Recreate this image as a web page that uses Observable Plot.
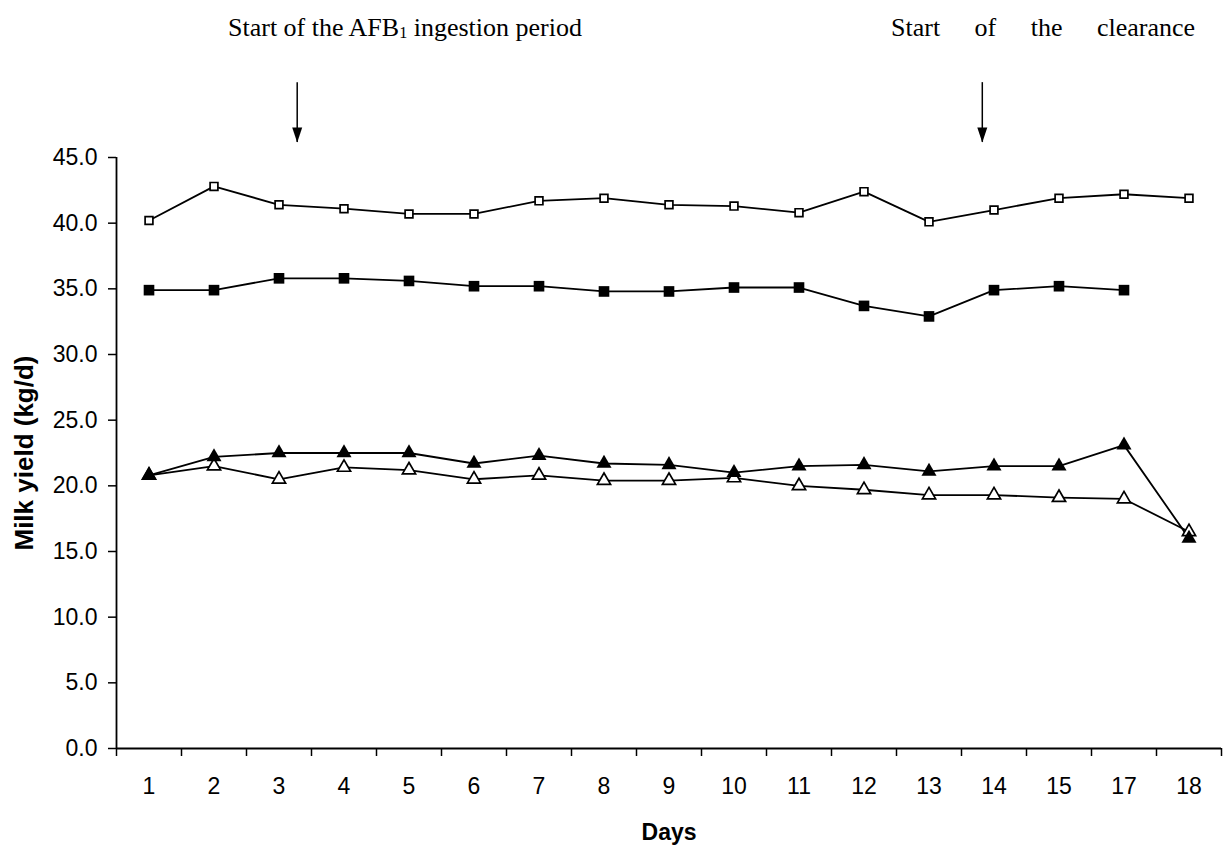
<!DOCTYPE html>
<html>
<head>
<meta charset="utf-8">
<script src="https://cdn.jsdelivr.net/npm/d3@7"></script>
<script src="https://cdn.jsdelivr.net/npm/@observablehq/plot@0.6"></script>
<style>
  body { margin: 0; background: #fff; }
  #wrap { position: relative; width: 1226px; height: 853px; background: #fff; }
  #head { position: relative; height: 60px; font-family: "Liberation Serif", "Times New Roman", serif; font-size: 26px; color: #000; }
  #head .t { position: absolute; white-space: nowrap; top: 13px; line-height: 30px; }
  #head sub { font-size: 0.62em; vertical-align: -0.15em; line-height: 0; }
</style>
</head>
<body>
<div id="wrap">
  <div id="head">
    <span class="t" id="ann1"></span>
    <span class="t" id="ann2"></span>
  </div>
  <div id="chart"></div>
</div>
<script>
// ---- data ----
const days = ["1","2","3","4","5","6","7","8","9","10","11","12","13","14","15","17","18"];
const openSquares     = [40.2, 42.8, 41.4, 41.1, 40.7, 40.7, 41.7, 41.9, 41.4, 41.3, 40.8, 42.4, 40.1, 41.0, 41.9, 42.2, 41.9];
const filledSquares   = [34.9, 34.9, 35.8, 35.8, 35.6, 35.2, 35.2, 34.8, 34.8, 35.1, 35.1, 33.7, 32.9, 34.9, 35.2, 34.9, null];
const openTriangles   = [20.8, 21.5, 20.5, 21.4, 21.2, 20.5, 20.8, 20.4, 20.4, 20.6, 20.0, 19.7, 19.3, 19.3, 19.1, 19.0, 16.5];
const filledTriangles = [20.8, 22.2, 22.5, 22.5, 22.5, 21.7, 22.3, 21.7, 21.6, 21.0, 21.5, 21.6, 21.1, 21.5, 21.5, 23.1, 16.0];
const yTicks = [0, 5, 10, 15, 20, 25, 30, 35, 40, 45];
const yLabel = "Milk yield (kg/d)";
const xLabel = "Days";
// annotations: arrow positions (in day-slot units) and texts
const arrowSlots = [3.28, 13.82];
const arrowTopValue = 50.7;
const arrowTipValue = 46.15;
const annText1 = 'Start of the AFB<sub>1</sub> ingestion period';
const annText2 = 'Start of the clearance';

// ---- build ----
const seriesDefs = [
  {name: "openSquares", values: openSquares},
  {name: "filledSquares", values: filledSquares},
  {name: "openTriangles", values: openTriangles},
  {name: "filledTriangles", values: filledTriangles}
];
const rows = [];
for (const s of seriesDefs) {
  s.values.forEach((v, i) => { if (v != null) rows.push({series: s.name, slot: i + 1, day: days[i], value: v}); });
}
const slots = days.map((d, i) => i + 1);
const bounds = d3.range(0, days.length + 1).map(i => i + 0.5);
const pick = name => rows.filter(r => r.series === name);

const arrowHead = {
  draw(ctx) { ctx.moveTo(0, 0); ctx.lineTo(-5, -15); ctx.lineTo(5, -15); ctx.closePath(); }
};

const chart = Plot.plot({
  width: 1226,
  height: 793,
  marginTop: 97,
  marginBottom: 105,
  marginLeft: 116,
  marginRight: 5,
  style: {fontFamily: "'Liberation Sans', Arial, sans-serif", fontSize: "23px", color: "#000", background: "#fff", overflow: "visible"},
  x: {type: "linear", domain: [0.5, days.length + 0.5], axis: null},
  y: {domain: [0, 45], axis: null},
  marks: [
    // y axis
    Plot.axisY({ticks: yTicks, tickSize: 8, tickPadding: 11, tickFormat: d => d.toFixed(1), label: null, strokeWidth: 1.5, fontSize: 23}),
    Plot.ruleX([0.5], {stroke: "#000", strokeWidth: 1.8}),
    // x axis
    Plot.axisX({ticks: bounds, tickSize: 8, tickFormat: () => "", label: null, strokeWidth: 1.5}),
    Plot.axisX({ticks: slots, tickSize: 0, tickPadding: 29, tickFormat: i => days[i - 1], label: null, fontSize: 23}),
    Plot.ruleY([0], {stroke: "#000", strokeWidth: 2}),
    // lines
    Plot.line(rows, {x: "slot", y: "value", z: "series", stroke: "#000", strokeWidth: 1.8}),
    // markers
    Plot.dot(pick("openSquares"), {x: "slot", y: "value", symbol: "square", r: 4.4, fill: "#fff", stroke: "#000", strokeWidth: 1.7}),
    Plot.dot(pick("filledSquares"), {x: "slot", y: "value", symbol: "square", r: 6, fill: "#000", stroke: "none"}),
    Plot.dot(pick("openTriangles"), {x: "slot", y: "value", symbol: "triangle", r: 4.9, fill: "#fff", stroke: "#000", strokeWidth: 1.7}),
    Plot.dot(pick("filledTriangles"), {x: "slot", y: "value", symbol: "triangle", r: 5.6, fill: "#000", stroke: "none"}),
    // arrows
    Plot.ruleX(arrowSlots, {x: d => d, y1: arrowTopValue, y2: arrowTipValue, stroke: "#000", strokeWidth: 1.5}),
    Plot.dot(arrowSlots, {x: d => d, y: arrowTipValue, symbol: arrowHead, fill: "#000", stroke: "none"}),
    // axis titles
    Plot.text([yLabel], {frameAnchor: "left", rotate: -90, dx: -92, textAnchor: "middle", lineAnchor: "middle", fontWeight: "bold", fontSize: 26}),
    Plot.text([xLabel], {frameAnchor: "bottom", dy: 75, textAnchor: "middle", lineAnchor: "top", fontWeight: "bold", fontSize: 23})
  ]
});
document.getElementById("chart").appendChild(chart);

const a1 = document.getElementById("ann1");
a1.innerHTML = annText1;
a1.style.left = "228px";
const a2 = document.getElementById("ann2");
a2.textContent = annText2;
a2.style.left = "891px";
a2.style.wordSpacing = "28px";
</script>
</body>
</html>
